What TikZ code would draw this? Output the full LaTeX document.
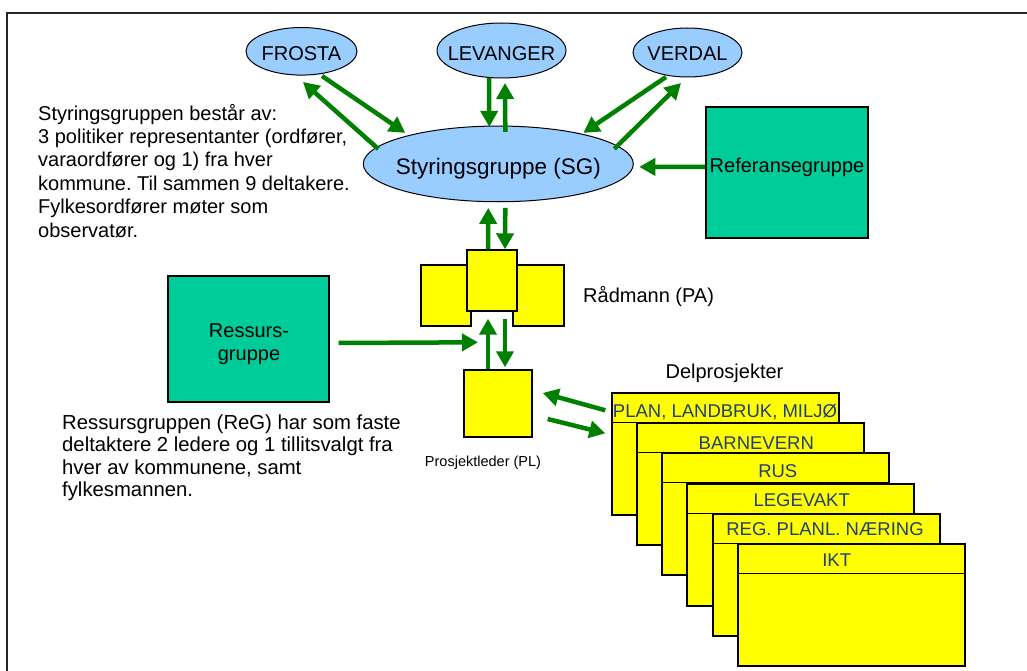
\documentclass[tikz,border=0pt]{standalone}
\usepackage{fontspec}
\setmainfont{Liberation Sans}
\usetikzlibrary{shapes.geometric,arrows.meta,calc}
\definecolor{ellblue}{HTML}{99CCFF}
\definecolor{tealbox}{HTML}{00CC99}
\definecolor{yelbox}{HTML}{FFFF00}
\definecolor{grn}{HTML}{008000}
\definecolor{lblue}{HTML}{1F3F75}
\frenchspacing
\begin{document}
\begin{tikzpicture}[x=1pt,y=-1pt,
  ell/.style={ellipse,draw=black,line width=1pt,fill=ellblue,inner xsep=-12pt,inner ysep=0pt,text depth=0pt,font=\fontsize{20}{24}\selectfont},
  gbox/.style={rectangle,draw=black,line width=1.2pt,fill=tealbox,inner sep=0pt,font=\fontsize{20}{24}\selectfont},
  ybox/.style={rectangle,draw=black,line width=1.4pt,fill=yelbox,inner sep=0pt},
  hdr/.style={draw=black,line width=1.4pt},
  dplab/.style={inner sep=0pt,anchor=base,text=lblue,font=\fontsize{18.5}{22}\selectfont},
  arr/.style={draw=grn,line width=4.5pt,-{Triangle[length=16pt,width=17pt]}},
  txt/.style={inner sep=0pt,font=\fontsize{20}{24}\selectfont},
]
\useasboundingbox (0,0) rectangle (1027,671);
\draw[line width=2pt,black!85] (7.3,700) -- (7.3,12.7) -- (1040,12.7);

% ellipses
\node[ell,minimum width=111pt,minimum height=47.6pt,text height=18.8pt] (fro) at (301.5,51.3) {FROSTA};
\node[ell,minimum width=129pt,minimum height=55pt,text height=20.4pt] (lev) at (501.5,50.5) {LEVANGER};
\node[ell,minimum width=109pt,minimum height=49pt,text height=16.4pt] (ver) at (687.5,52.5) {VERDAL};
\node[ell,minimum width=270pt,minimum height=75.7pt,text height=22pt,font=\fontsize{22.5}{26}\selectfont] (sg) at (498.3,163.9) {Styringsgruppe (SG)};

% green boxes
\node[gbox,minimum width=162pt,minimum height=131pt,text height=1pt,text depth=0pt] (ref) at (787,172.5) {Referansegruppe};
\node[gbox,minimum width=161pt,minimum height=126pt] (rs) at (248.5,339) {};
\node[txt,align=center,anchor=base,font=\fontsize{20}{23}\selectfont] (rstext) at (249,360) {Ressurs-\\gruppe};

% Raadmann boxes
\node[ybox,minimum width=50pt,minimum height=61pt] (rml) at (446,295.5) {};
\node[ybox,minimum width=51pt,minimum height=61pt] (rmr) at (538.5,295.5) {};
\node[ybox,minimum width=50pt,minimum height=61pt] (rmc) at (492,280.5) {};
\node[txt,anchor=base west] (rmlab) at (583,302) {Rådmann (PA)};

% Prosjektleder
\node[ybox,minimum width=68pt,minimum height=67pt] (pl) at (498,403.5) {};
\node[inner sep=0pt,anchor=base,font=\fontsize{14.5}{17}\selectfont] (pllab) at (483,466) {Prosjektleder (PL)};

% Delprosjekter
\node[txt,anchor=base] (dplabel) at (724.5,378) {Delprosjekter};
\node[ybox,minimum width=227pt,minimum height=122pt] (dp0) at (725.5,454) {};
\draw[hdr] ($(dp0.north west)+(0,30)$) -- ($(dp0.north east)+(0,30)$);
\node[dplab] (l0) at (725,417.3) {PLAN, LANDBRUK, MILJØ};
\node[ybox,minimum width=227pt,minimum height=122pt] (dp1) at (750.5,484) {};
\draw[hdr] ($(dp1.north west)+(0,30)$) -- ($(dp1.north east)+(0,30)$);
\node[dplab] (l1) at (756.3,449.3) {BARNEVERN};
\node[ybox,minimum width=227pt,minimum height=122pt] (dp2) at (775.5,514) {};
\draw[hdr] ($(dp2.north west)+(0,30)$) -- ($(dp2.north east)+(0,30)$);
\node[dplab] (l2) at (777.8,477.3) {RUS};
\node[ybox,minimum width=227pt,minimum height=122pt] (dp3) at (800.5,545) {};
\draw[hdr] ($(dp3.north west)+(0,30)$) -- ($(dp3.north east)+(0,30)$);
\node[dplab] (l3) at (801.7,506) {LEGEVAKT};
\node[ybox,minimum width=227pt,minimum height=122pt] (dp4) at (826.5,575) {};
\draw[hdr] ($(dp4.north west)+(0,30)$) -- ($(dp4.north east)+(0,30)$);
\node[dplab] (l4) at (825,535) {REG. PLANL. NÆRING};
\node[ybox,minimum width=227pt,minimum height=122pt] (dp5) at (851.5,605) {};
\draw[hdr] ($(dp5.north west)+(0,30)$) -- ($(dp5.north east)+(0,30)$);
\node[dplab] (l5) at (836.7,566.7) {IKT};

% texts
\node[txt,anchor=base west,align=left,font=\fontsize{20}{23.4}\selectfont] (sgtext) at (38,237) {Styringsgruppen består av:\\3 politiker representanter (ordfører,\\varaordfører og 1) fra hver\\kommune. Til sammen 9 deltakere.\\Fylkesordfører møter som\\observatør.};
\node[txt,anchor=base west,align=left,font=\fontsize{20.3}{22.6}\selectfont] (rstext2) at (62,496.8) {Ressursgruppen (ReG) har som faste\\deltaktere 2 ledere og 1 tillitsvalgt fra\\hver av kommunene, samt\\fylkesmannen.};

% arrows
\draw[arr] ($(fro.center)+(20.5,24.7)$) -- ($(sg.center)+(-93,-31)$);
\draw[arr] ($(sg.center)+(-120,-15)$) -- ($(fro.center)+(1.5,30.7)$);
\draw[arr] ($(lev.center)+(-12.5,27.5)$) -- ($(sg.center)+(-9,-37)$);
\draw[arr] ($(sg.center)+(7,-32)$) -- ($(lev.center)+(3.5,32.5)$);
\draw[arr] ($(ver.center)+(-21.5,24.5)$) -- ($(sg.center)+(85,-31)$);
\draw[arr] ($(sg.center)+(116,-15)$) -- ($(ver.center)+(-6.5,30.5)$);
\draw[arr] ($(ref.west)+(0,-5.5)$) -- ($(sg.center)+(141,3)$);
\draw[arr] ($(rmc.north)+(-4,0)$) -- ($(sg.center)+(-10,44)$);
\draw[arr] ($(sg.center)+(7,44)$) -- ($(rmc.north)+(13,0)$);
\draw[arr] ($(pl.north)+(-10,0)$) -- ($(rmc.south)+(-4,7)$);
\draw[arr] ($(rmc.south)+(13,7)$) -- ($(pl.north)+(7,-2)$);
\draw[arr] ($(rs.east)+(9,4)$) -- ($(pl.north)+(-20,-27)$);
\draw[arr] ($(dp0.north west)+(-6,18)$) -- ($(pl.east)+(10,-10.5)$);
\draw[arr] ($(pl.east)+(15,15.5)$) -- ($(dp0.north west)+(-6,41)$);
\end{tikzpicture}
\end{document}
